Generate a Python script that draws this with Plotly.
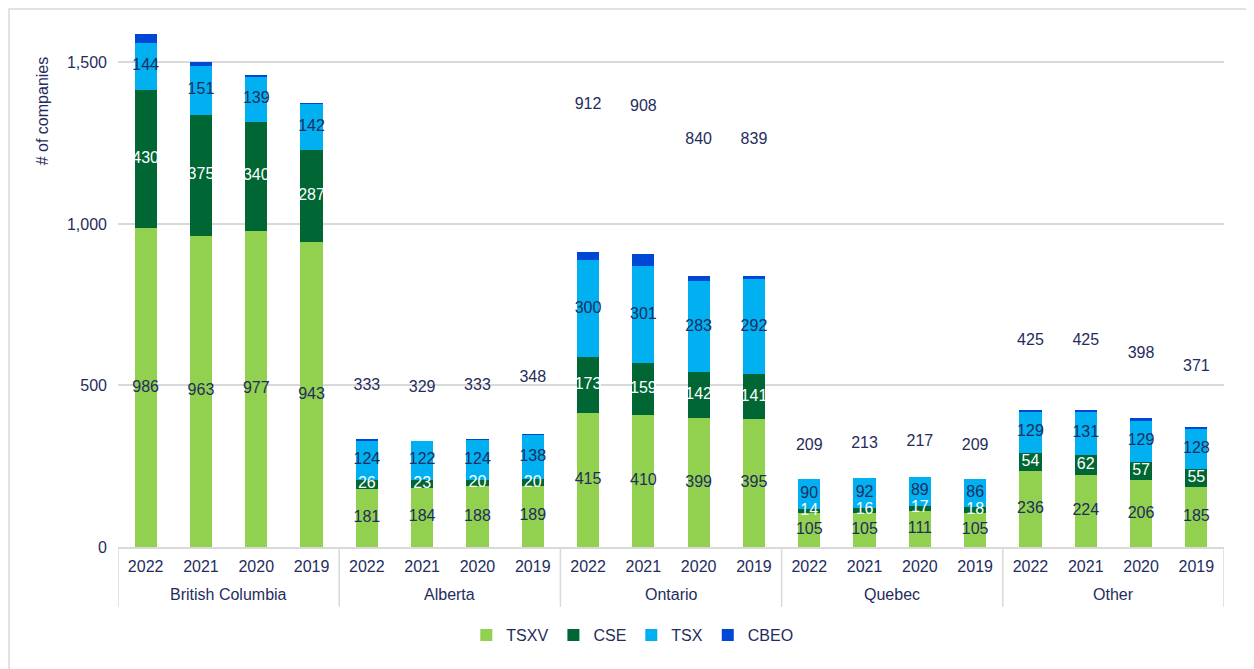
import plotly.graph_objects as go

# categories
regions = ['British Columbia', 'Alberta', 'Ontario', 'Quebec', 'Other']
years = ['2022', '2021', '2020', '2019']

# series values, per region, per year (2022 -> 2019)
tsxv = [986, 963, 977, 943,
        181, 184, 188, 189,
        415, 410, 399, 395,
        105, 105, 111, 105,
        236, 224, 206, 185]
cse = [430, 375, 340, 287,
       26, 23, 20, 20,
       173, 159, 142, 141,
       14, 16, 17, 18,
       54, 62, 57, 55]
tsx = [144, 151, 139, 142,
       124, 122, 124, 138,
       300, 301, 283, 292,
       90, 92, 89, 86,
       129, 131, 129, 128]
cbeo = [27, 11, 2, 2,
        2, 0, 1, 1,
        24, 38, 16, 11,
        0, 0, 0, 0,
        6, 8, 6, 3]
totals = [1587, 1500, 1458, 1374,
          333, 329, 333, 348,
          912, 908, 840, 839,
          209, 213, 217, 209,
          425, 425, 398, 371]

y_ticks = [0, 500, 1000, 1500]
y_ticklabels = ['0', '500', '1,000', '1,500']
Y_MAX = 1625

NAVY = '#1F2D5E'
GRID = '#D9D9D9'
n_years = len(years)
xs = list(range(len(regions) * n_years))
x_years = [y for _ in regions for y in years]

fig = go.Figure()

series = [('TSXV', tsxv, '#92D050'), ('CSE', cse, '#006633'),
          ('TSX', tsx, '#00B0F0'), ('CBEO', cbeo, '#0047D6')]
for name, vals, col in series:
    fig.add_trace(go.Bar(
        name=name, x=xs, y=vals, marker_color=col, marker_line_width=0,
        customdata=[[r, y] for r in regions for y in years],
        hovertemplate='%{customdata[0]} %{customdata[1]}<br>' + name + ': %{y}<extra></extra>'
    ))

# segment labels at the middle of each stacked segment
base = [0] * len(tsxv)
label_cols = {'TSXV': NAVY, 'CSE': 'white', 'TSX': NAVY}
for name, vals, col in series:
    mids = [b + v / 2 for b, v in zip(base, vals)]
    if name in label_cols:
        fig.add_trace(go.Scatter(
            x=xs, y=mids, mode='text', text=[str(v) for v in vals],
            textfont=dict(size=16, color=label_cols[name]),
            showlegend=False, hoverinfo='skip'
        ))
    base = [b + v for b, v in zip(base, vals)]

# total labels (sit well above the bars, as in the original; off-scale ones not shown)
tot_y = [t * 1.5 for t in totals]
fig.add_trace(go.Scatter(
    x=[x for x, ty in zip(xs, tot_y) if ty < Y_MAX],
    y=[ty for ty in tot_y if ty < Y_MAX],
    mode='text',
    text=[str(t) for t, ty in zip(totals, tot_y) if ty < Y_MAX],
    textfont=dict(size=16, color=NAVY),
    showlegend=False, hoverinfo='skip'
))

# region labels and group dividers under the year ticks
annotations = []
shapes = []
for i, r in enumerate(regions):
    annotations.append(dict(text=r, x=i * n_years + (n_years - 1) / 2, xref='x',
                            y=-0.0914, yref='paper', xanchor='center', yanchor='middle',
                            showarrow=False, font=dict(size=16, color=NAVY)))
for i in range(len(regions) + 1):
    shapes.append(dict(type='line', xref='x', yref='paper',
                       x0=i * n_years - 0.5, x1=i * n_years - 0.5, y0=0, y1=-0.114,
                       line=dict(color=GRID, width=1.5)))

annotations.append(dict(text='# of companies', textangle=-90, xref='paper', yref='paper',
                        x=-0.0687, y=0.83, xanchor='center', yanchor='middle',
                        showarrow=False, font=dict(size=16, color=NAVY)))
# outer chart border
shapes.append(dict(type='rect', xref='paper', yref='paper',
                   x0=-0.0985, x1=1.0262, y0=-0.2362, y1=1.0248,
                   line=dict(color=GRID, width=1.5)))

fig.update_layout(
    width=1246, height=661,
    barmode='stack', bargap=0.6,
    plot_bgcolor='white', paper_bgcolor='white',
    font=dict(family='Liberation Sans, Arial, sans-serif', size=16, color=NAVY),
    margin=dict(l=110, r=30, t=14, b=122),
    legend=dict(orientation='h', x=0.465, xanchor='center', y=-0.168, yanchor='middle',
                font=dict(size=16, color=NAVY), itemwidth=30, traceorder='normal'),
    yaxis=dict(range=[0, Y_MAX], tickvals=y_ticks, ticktext=y_ticklabels, automargin=False,
               showgrid=True, gridcolor=GRID, gridwidth=1.5, zeroline=False,
               tickfont=dict(size=16, color=NAVY), ticks='', ticklabelstandoff=10,
               fixedrange=True),
    xaxis=dict(range=[-0.5, len(xs) - 0.5], tickvals=xs, ticktext=x_years, automargin=False,
               showline=True, linecolor=GRID, linewidth=1.5, showgrid=False, zeroline=False,
               tickfont=dict(size=16, color=NAVY), ticks='', ticklabelstandoff=4,
               fixedrange=True),
    shapes=shapes,
    annotations=annotations
)

fig.write_html('out.html')
